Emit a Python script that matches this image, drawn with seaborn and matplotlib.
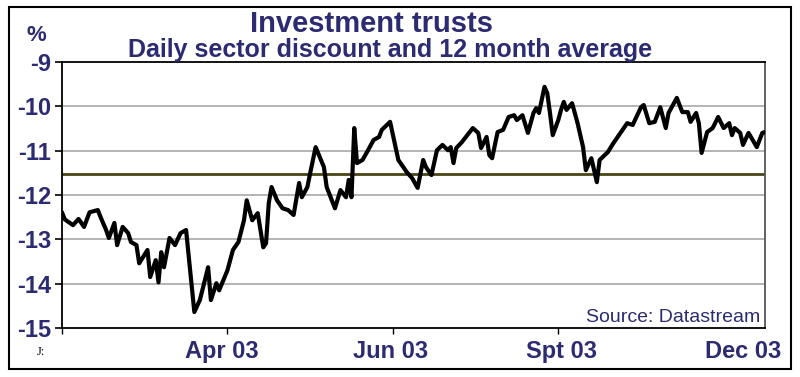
import pandas as pd
import seaborn as sns
import matplotlib.pyplot as plt
from matplotlib.patches import Rectangle

# trading-day index (0 = start of Jan 03) and daily sector discount, %
days = [0, 1, 4, 6, 8, 10, 13, 14, 16, 17, 19, 20, 22, 24, 25, 27, 28, 31, 32, 34,
        35, 36, 37, 39, 41, 43, 45, 46, 48, 50, 53, 54, 56, 57, 60, 62, 64, 66, 67, 69,
        71, 73, 74, 75, 76, 78, 80, 82, 84, 86, 87, 89, 90, 92, 95, 96, 99, 101, 103, 104,
        105, 106, 107, 109, 111, 113, 115, 116, 119, 121, 122, 125, 127, 129, 131, 132, 134, 136, 138, 140,
        141, 142, 143, 145, 149, 151, 152, 154, 155, 156, 158, 160, 162, 164, 165, 167, 169, 171, 172, 173,
        175, 176, 177, 178, 180, 181, 182, 183, 185, 186, 187, 189, 190, 192, 193, 194, 195, 198, 200, 202,
        205, 207, 210, 211, 213, 215, 217, 219, 220, 223, 225, 227, 228, 230, 231, 232, 234, 236, 238, 240,
        242, 243, 244, 246, 247, 249, 251, 252, 254, 255]
discount = [-12.39, -12.55, -12.68, -12.54, -12.72, -12.39, -12.34, -12.50, -12.79, -12.97,
            -12.63, -13.13, -12.72, -12.86, -13.06, -13.13, -13.54, -13.24, -13.85, -13.47,
            -13.97, -13.29, -13.63, -12.97, -13.13, -12.86, -12.79, -13.40, -14.64, -14.37,
            -13.63, -14.37, -13.99, -14.15, -13.70, -13.24, -13.06, -12.57, -12.12, -12.57,
            -12.41, -13.18, -13.09, -12.18, -11.82, -12.12, -12.30, -12.34, -12.45, -11.73,
            -12.05, -11.82, -11.51, -10.92, -11.37, -11.82, -12.30, -11.89, -12.05, -11.66,
            -12.05, -10.49, -11.28, -11.21, -10.99, -10.76, -10.69, -10.53, -10.35, -10.92,
            -11.21, -11.48, -11.62, -11.84, -11.21, -11.37, -11.55, -10.99, -10.87, -10.99,
            -10.92, -11.28, -10.94, -10.81, -10.49, -10.60, -10.94, -10.69, -11.10, -11.17,
            -10.58, -10.53, -10.24, -10.20, -10.31, -10.20, -10.60, -10.15, -10.04, -10.15,
            -9.56, -9.70, -10.15, -10.65, -10.31, -10.08, -9.90, -10.08, -9.93, -10.15,
            -10.38, -10.92, -11.44, -11.17, -11.44, -11.71, -11.21, -11.03, -10.83, -10.65,
            -10.38, -10.42, -10.02, -9.97, -10.38, -10.35, -10.02, -10.49, -10.15, -9.81,
            -10.13, -10.13, -10.35, -10.15, -10.38, -11.05, -10.58, -10.49, -10.24, -10.49,
            -10.38, -10.65, -10.49, -10.60, -10.87, -10.60, -10.81, -10.92, -10.60, -10.58]
avg_12m = -11.52

month_labels = ['Apr 03', 'Jun 03', 'Spt 03', 'Dec 03']
label_pos = [58, 119, 181, 247]
tick_marks = [0, 60, 120, 180]

navy = '#2c2b72'

sns.set_style('white')
plt.rcParams['font.family'] = ['Liberation Sans', 'DejaVu Sans']

df = pd.DataFrame({'day': days, 'discount': discount})

fig = plt.figure(figsize=(8, 3.77), dpi=100)
ax = fig.add_axes([0.0775, 0.13, 0.8788, 0.7055])

for v in [-10, -11, -12, -13, -14]:
    ax.axhline(v, color='#a8a8a8', lw=1.2, zorder=1)
ax.axhline(avg_12m, color='#4a4516', lw=2, zorder=2)
sns.lineplot(data=df, x='day', y='discount', color='black', linewidth=3, ax=ax, zorder=3)

ax.set_xlim(0, 255)
ax.set_ylim(-15, -9)
ax.set_yticks([-9, -10, -11, -12, -13, -14, -15])
ax.set_yticklabels(['-9', '-10', '-11', '-12', '-13', '-14', '-15'])
ax.set_xticks(label_pos)
ax.set_xticklabels(month_labels)
ax.set_xticks(tick_marks, minor=True)
ax.tick_params(axis='x', which='major', length=0, pad=9, labelsize=17, labelcolor=navy)
ax.tick_params(axis='x', which='minor', length=4, width=1, color='black', bottom=True)
ax.tick_params(axis='y', length=5, width=1.2, color='black', pad=3, labelsize=17, labelcolor=navy, left=True)
for lab in ax.get_xticklabels() + ax.get_yticklabels():
    lab.set_fontweight('bold')
ax.set_xlabel('')
ax.set_ylabel('')

for side in ['left', 'bottom', 'top']:
    ax.spines[side].set_color('black')
    ax.spines[side].set_linewidth(1.3)
ax.spines['right'].set_color('#555555')
ax.spines['right'].set_linewidth(1.3)

ax.text(0.993, 0.022, 'Source: Datastream', transform=ax.transAxes, ha='right',
        va='baseline', fontsize=14, color=navy)

fig.text(371 / 800, 1 - 31.5 / 377, 'Investment trusts', ha='center', va='baseline',
         fontsize=21, fontweight='bold', color=navy)
fig.text(390 / 800, 1 - 56.5 / 377, 'Daily sector discount and 12 month average', ha='center',
         va='baseline', fontsize=18, fontweight='bold', color=navy)
fig.text(36 / 800, 1 - 41 / 377, '%', ha='center', va='baseline', fontsize=16,
         fontweight='bold', color=navy)
fig.text(41 / 800, 1 - 355 / 377, 'J:', ha='center', va='baseline', fontsize=9,
         family='Liberation Serif', color='black')

fig.patches.append(Rectangle((9 / 800, 8 / 377), 782 / 800, 362 / 377, transform=fig.transFigure,
                             fill=False, edgecolor='black', linewidth=1.5))

fig.savefig('out.png', dpi=100)
